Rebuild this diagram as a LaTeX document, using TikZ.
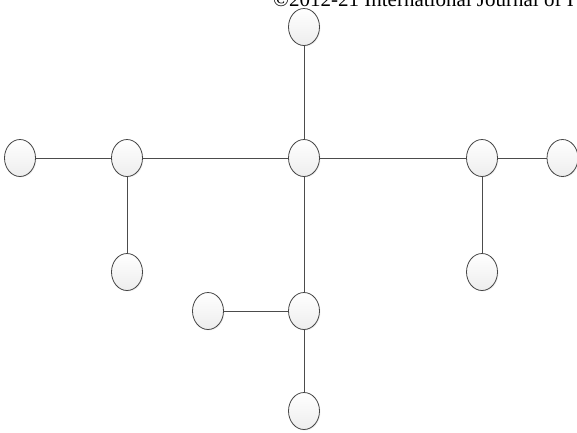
\documentclass[tikz,border=0pt]{standalone}
\usepackage{fontspec}
\setmainfont{Liberation Serif}
\usepackage{tikz}
\usetikzlibrary{shapes.geometric, shadows}

\tikzset{
  vertex/.style={ellipse, draw=gray!55!black, line width=0.8pt, top color=white, bottom color=gray!14,
    minimum width=31pt, minimum height=37pt, inner sep=0pt,
    drop shadow={opacity=0.12, shadow xshift=1pt, shadow yshift=-1pt}},
  link/.style={draw=gray!60!black, line width=1pt}
}

\begin{document}
\begin{tikzpicture}[x=1pt, y=-1pt]
  \useasboundingbox (0,0) rectangle (577,432);
  \clip (0,0) rectangle (577,432);
  % Header
  \node[anchor=base west, inner sep=0pt, font=\fontsize{21}{21}\selectfont] (header) at (273,6.5) {©2012-21 International Journal of I};
  % Vertices
  \foreach \name/\x/\y in {top/304/27, hub/304/158, farleft/20/158, left/127/158, right/482/158,
      farright/562.5/158, leftdown/127/272, rightdown/482/272, mid/304/311, midleft/208/311, bottom/304/411}
    \node[vertex] (\name) at (\x,\y) {};
  % Links
  \foreach \a/\b in {top/hub, farleft/left, left/hub, hub/right, right/farright,
      left/leftdown, right/rightdown, hub/mid, midleft/mid, mid/bottom}
    \draw[link] (\a) -- (\b);
\end{tikzpicture}
\end{document}
